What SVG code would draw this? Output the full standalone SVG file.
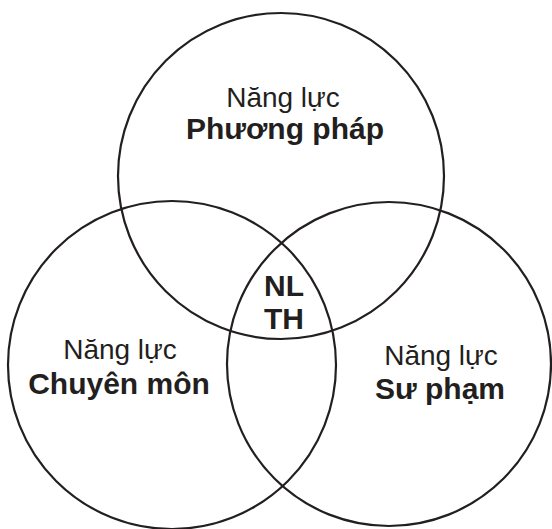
<svg xmlns="http://www.w3.org/2000/svg" width="552" height="529" viewBox="0 0 552 529">
<style>
.c{fill:none;stroke:#231f20;stroke-width:2.2}
.r{font-family:"Liberation Sans",Arial,sans-serif;font-size:28px;fill:#231f20;text-anchor:middle}
.b{font-family:"Liberation Sans",Arial,sans-serif;font-size:30px;font-weight:bold;fill:#231f20;text-anchor:middle}
</style>
<rect width="552" height="529" fill="#fff"/>
<g id="top">
<circle class="c" cx="281" cy="176" r="163"/>
<text class="r" x="283" y="107">Năng lực</text>
<text class="b" x="285" y="139">Phương pháp</text>
</g>
<g id="left">
<circle class="c" cx="172" cy="365" r="164"/>
<text class="r" x="120" y="359">Năng lực</text>
<text class="b" x="119" y="394">Chuyên môn</text>
</g>
<g id="right">
<circle class="c" cx="389" cy="364" r="162"/>
<text class="r" x="441" y="365">Năng lực</text>
<text class="b" x="440" y="399">Sư phạm</text>
</g>
<g id="center">
<text class="b" x="284" y="296">NL</text>
<text class="b" x="284" y="329">TH</text>
</g>
</svg>
